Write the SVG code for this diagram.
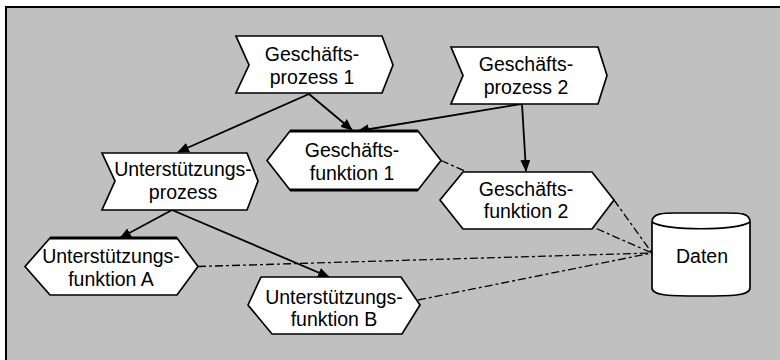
<svg xmlns="http://www.w3.org/2000/svg" width="780" height="360" viewBox="0 0 780 360">
<style>
.bg{fill:#C0C0C0}
.frame{stroke:#000;stroke-width:2;fill:none}
.shape{fill:#fff;stroke:#000;stroke-width:1.7;stroke-linejoin:miter}
.thick{stroke:#000;stroke-width:3;fill:none}
.t{font-family:"Liberation Sans",Arial,sans-serif;font-size:19.5px;fill:#000;text-anchor:middle}
.arrow{stroke:#000;stroke-width:1.8;fill:none;marker-end:url(#ah)}
.dash{stroke:#000;stroke-width:1.3;fill:none;stroke-dasharray:8 3 3 3}
</style>
<defs>
<marker id="ah" markerUnits="userSpaceOnUse" markerWidth="12" markerHeight="10" refX="11" refY="5" orient="auto">
<path d="M0,0 L12,5 L0,10 z" fill="#000"/>
</marker>
</defs>
<rect class="bg" x="6" y="7" width="774" height="353"/>
<path class="frame" d="M6,360 L6,7 L780,7"/>
<g id="connectors">
<path class="dash" d="M441,160.5 L652,253"/>
<path class="dash" d="M614,200 L652,253"/>
<path class="dash" d="M198,266.5 L652,253"/>
<path class="dash" d="M418,300 L652,253"/>
<path class="arrow" d="M309,94 L178,152"/>
<path class="arrow" d="M309,94 L352,130"/>
<path class="arrow" d="M521,104 L358,131"/>
<path class="arrow" d="M522,104 L526,171"/>
<path class="arrow" d="M172,210 L120,238"/>
<path class="arrow" d="M172,210 L329,277"/>
</g>
<g id="gp1">
<polygon class="shape" points="236,36 382,36 393,65 382,93 236,93 249,65"/>
<text class="t" x="312" y="61">Geschäfts-</text>
<text class="t" x="312" y="84">prozess 1</text>
</g>
<g id="gp2">
<polygon class="shape" points="451,47 598,47 607,75.5 598,104 451,104 463,75.5"/>
<text class="t" x="526" y="71">Geschäfts-</text>
<text class="t" x="526" y="94">prozess 2</text>
</g>
<g id="up">
<polygon class="shape" points="102,153 247,153 258,181 247,210 102,210 115,181"/>
<text class="t" x="183" y="176">Unterstützungs-</text>
<text class="t" x="183" y="199">prozess</text>
</g>
<g id="gf1">
<polygon class="shape" points="290,131 418,131 441,160.5 418,190 290,190 267,160.5"/>
<path class="thick" d="M290,131 L418,131 M290,190 L418,190"/>
<text class="t" x="352" y="157">Geschäfts-</text>
<text class="t" x="352" y="180">funktion 1</text>
</g>
<g id="gf2">
<polygon class="shape" points="463,172 592,172 614,200 592,229 463,229 440,200"/>
<text class="t" x="526" y="196">Geschäfts-</text>
<text class="t" x="526" y="218">funktion 2</text>
</g>
<g id="ufa">
<polygon class="shape" points="50,238 177,238 198,266.5 177,295 50,295 25,266.5"/>
<path class="thick" d="M50,238 L177,238"/>
<text class="t" x="111" y="263">Unterstützungs-</text>
<text class="t" x="111" y="286">funktion A</text>
</g>
<g id="ufb">
<polygon class="shape" points="261,277 401,277 420,305 402,334 272,334 248,305"/>
<text class="t" x="334" y="304">Unterstützungs-</text>
<text class="t" x="334" y="326">funktion B</text>
</g>
<g id="daten">
<path class="shape" d="M652,222 C652,213 664,213 676,213 L726,213 C740,213 750,213 750,222 L750,288 C750,296 730,296 701,296 C672,296 652,296 652,288 Z"/>
<path class="shape" fill="none" d="M652,222 C664,231 738,231 750,222"/>
<text class="t" x="702" y="263">Daten</text>
</g>
</svg>
